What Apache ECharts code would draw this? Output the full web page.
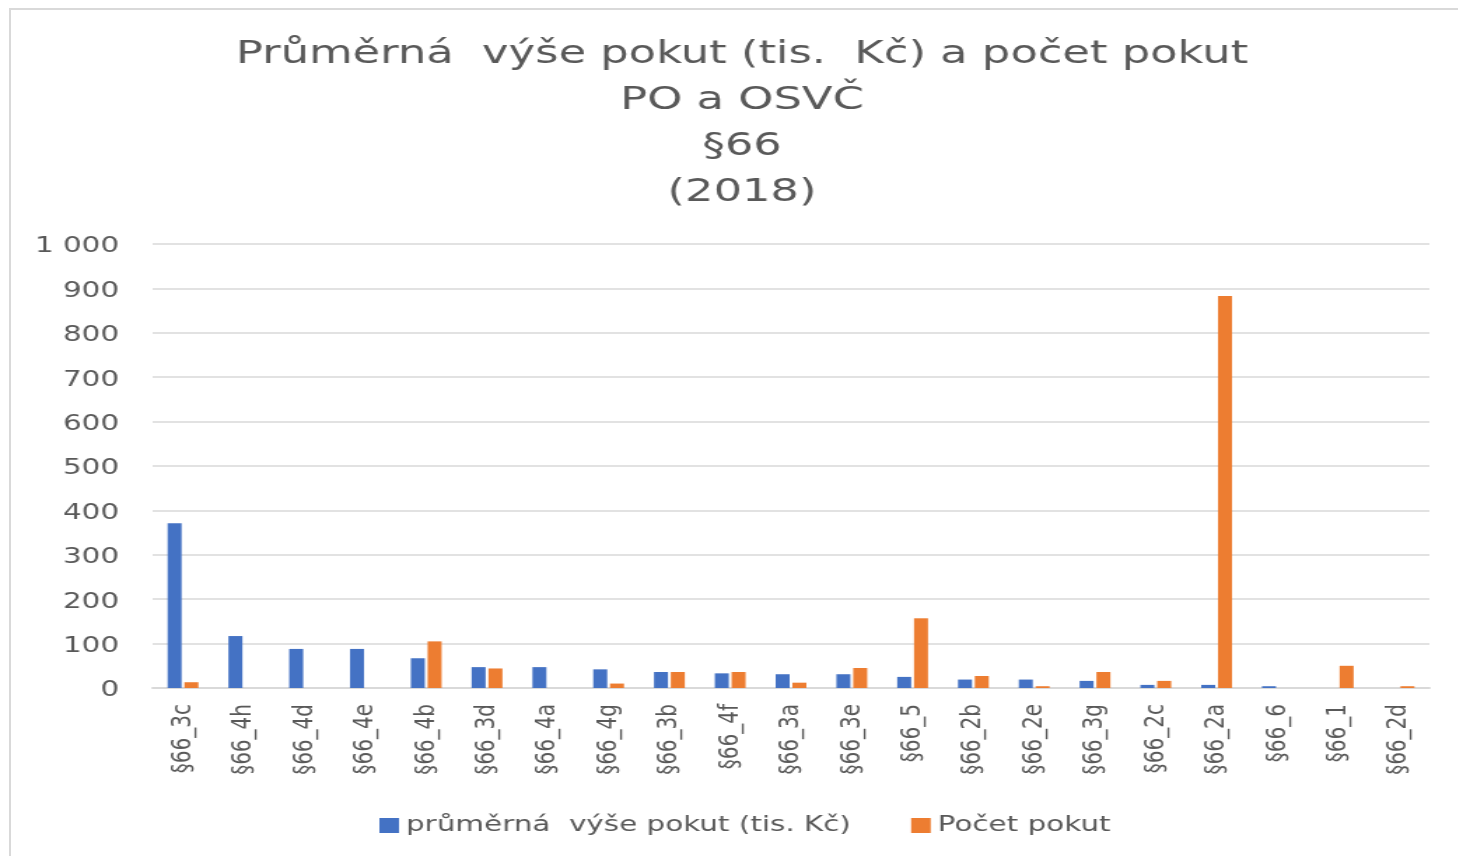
<!DOCTYPE html>
<html>
<head>
    <meta charset="utf-8">
    <title>Průměrná výše pokut a počet pokut §66 (2018)</title>
    <script src="https://cdn.jsdelivr.net/npm/echarts@6/dist/echarts.min.js"></script>
</head>
<body style="margin: 0; overflow: hidden; background: #fff">
<!-- frame of the original sheet, only top and left edge are visible -->
<div style="position: absolute; left: 9px; top: 8px; width: 1460px; height: 860px; border-top: 2px solid #d9d9d9; border-left: 2px solid #d9d9d9"></div>
<!-- the reference is stretched sideways, so the chart is drawn narrower and scaled -->
<div id="container" style="position: absolute; left: 0; top: 0; width: 1041px; height: 856px; transform: scaleX(1.4); transform-origin: 0 0"></div>
<script type="text/javascript">
var categories = ['§66_3c', '§66_4h', '§66_4d', '§66_4e', '§66_4b', '§66_3d', '§66_4a',
    '§66_4g', '§66_3b', '§66_4f', '§66_3a', '§66_3e', '§66_5', '§66_2b', '§66_2e',
    '§66_3g', '§66_2c', '§66_2a', '§66_6', '§66_1', '§66_2d'];
// průměrná výše pokut (tis. Kč)
var avgFine = [371, 117, 88, 88, 67, 47, 47, 42, 36, 33, 31, 31, 25, 19, 19, 16, 7, 7, 4, 0, 0];
// počet pokut
var fineCount = [13, 0, 0, 0, 105, 44, 0, 10, 36, 36, 12, 45, 157, 27, 4, 36, 16, 883, 0, 50, 4];
var yTicks = [0, 100, 200, 300, 400, 500, 600, 700, 800, 900, 1000];

var seriesNames = ['průměrná  výše pokut (tis. Kč)', 'Počet pokut'];
var textColor = '#595959';
var font = 'DejaVu Sans';

var myChart = echarts.init(document.getElementById('container'));
var option = {
    animation: false,
    title: {
        text: 'Průměrná  výše pokut (tis.  Kč) a počet pokut\nPO a OSVČ\n§66\n(2018)',
        left: 530,
        top: 32,
        padding: 0,
        textAlign: 'center',
        textStyle: {
            fontFamily: font,
            fontSize: 32,
            fontWeight: 'normal',
            color: textColor,
            lineHeight: 46
        }
    },
    legend: {
        data: seriesNames,
        left: 266,
        top: 810,
        itemWidth: 14,
        itemHeight: 15,
        itemGap: 43,
        icon: 'rect',
        textStyle: {fontFamily: font, fontSize: 21, color: textColor}
    },
    grid: {left: 109, right: 20, top: 244, bottom: 168},
    xAxis: {
        type: 'category',
        data: categories,
        axisTick: {show: false},
        axisLine: {lineStyle: {color: '#d9d9d9', width: 2}},
        axisLabel: {
            rotate: 90,
            margin: 16,
            fontFamily: font,
            fontSize: 20,
            color: textColor
        }
    },
    yAxis: {
        type: 'value',
        min: 0,
        max: 1000,
        interval: 100,
        axisLine: {show: false},
        axisTick: {show: false},
        splitLine: {lineStyle: {color: '#d9d9d9', width: 1.5}},
        axisLabel: {
            margin: 24,
            fontFamily: font,
            fontSize: 21,
            color: textColor,
            formatter: function (v) {
                if (yTicks.indexOf(v) < 0) return '';
                return '{n|' + String(v).replace(/\B(?=(\d{3})+(?!\d))/g, ' ') + '}';
            },
            rich: {
                n: {fontFamily: font, fontSize: 21, color: textColor, padding: [6, 0, 0, 0]}
            }
        }
    },
    series: [{
        name: seriesNames[0],
        type: 'bar',
        data: avgFine,
        barWidth: 10,
        barGap: '20%',
        itemStyle: {color: '#4472c4'}
    }, {
        name: seriesNames[1],
        type: 'bar',
        data: fineCount,
        barWidth: 10,
        itemStyle: {color: '#ed7d31'}
    }]
};
myChart.setOption(option);
</script>
</body>
</html>
